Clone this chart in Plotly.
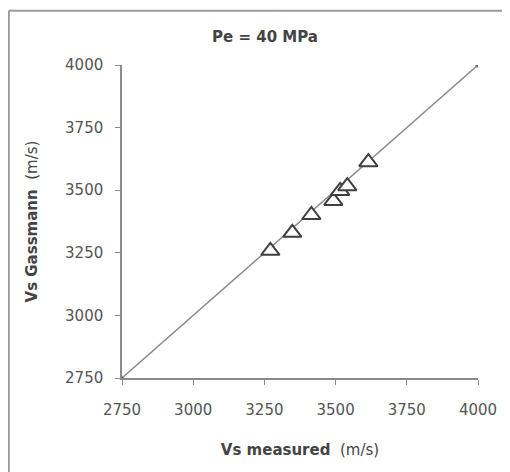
import plotly.graph_objects as go

# valores
vs_medido = [3271, 3348, 3415, 3492, 3516, 3541, 3615]
vs_gassmann = [3258, 3330, 3401, 3457, 3497, 3516, 3612]
linha_1para1 = [2750, 4000]
ticks = [2750, 3000, 3250, 3500, 3750, 4000]

cinza_eixo = "#8a8a8a"
cinza_texto = "#555555"

fig = go.Figure()

fig.add_trace(go.Scatter(
    x=linha_1para1,
    y=linha_1para1,
    mode="lines+markers",
    line=dict(color="#8c8c8c", width=1.5),
    marker=dict(size=[4, 5], color="#444444"),
    hoverinfo="skip"
))

fig.add_trace(go.Scatter(
    x=vs_medido,
    y=vs_gassmann,
    mode="markers",
    marker=dict(
        symbol="triangle-up",
        size=16,
        color="white",
        line=dict(color="#3f3f3f", width=2)
    )
))

eixo = dict(
    range=[2750, 4000],
    tickvals=ticks,
    showgrid=False,
    zeroline=False,
    showline=True,
    linecolor=cinza_eixo,
    linewidth=1.5,
    ticks="outside",
    ticklen=5,
    tickcolor=cinza_eixo,
    tickfont=dict(family="DejaVu Sans", size=15, color=cinza_texto),
)

# a página tem 8px de margem no body, por isso as margens descontam isso
fig.update_layout(
    width=510,
    height=472,
    margin=dict(l=114, r=40, t=57, b=102),
    paper_bgcolor="white",
    plot_bgcolor="white",
    showlegend=False,
    title=dict(
        text="<b>Pe = 40 MPa</b>",
        x=257 / 510,
        xanchor="center",
        y=1 - 29 / 472,
        yanchor="middle",
        font=dict(family="DejaVu Sans", size=15, color="#444444")
    ),
    xaxis=dict(
        eixo,
        ticklabelstandoff=12,
        title=dict(
            text="<b>Vs measured</b>  (m/s)",
            font=dict(family="DejaVu Sans", size=15, color="#444444"),
            standoff=27
        )
    ),
    yaxis=dict(
        eixo,
        ticklabelstandoff=9,
        title=dict(
            text="<b>Vs Gassmann</b>  (m/s)",
            font=dict(family="DejaVu Sans", size=15, color="#444444"),
            standoff=24
        )
    ),
)

# moldura do scan (só topo e lado esquerdo visíveis)
fig.add_shape(type="line", xref="paper", yref="paper",
              x0=-0.318, x1=1.2, y0=1.173, y1=1.173,
              line=dict(color="#9a9a9a", width=2))
fig.add_shape(type="line", xref="paper", yref="paper",
              x0=-0.318, x1=-0.318, y0=-0.4, y1=1.173,
              line=dict(color="#9a9a9a", width=2))

fig.write_html("out.html")
